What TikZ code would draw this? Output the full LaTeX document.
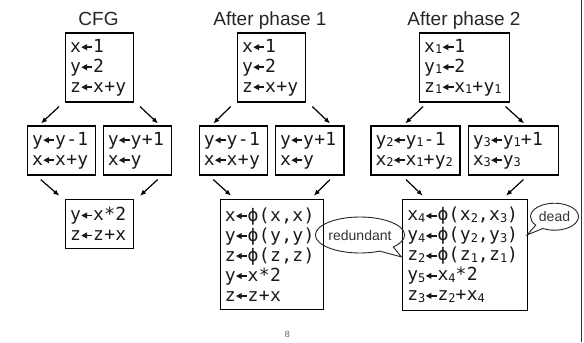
\documentclass[tikz,border=0pt]{standalone}
\usepackage{fontspec}
\setmainfont{Liberation Sans}
\newfontfamily\codefont[LetterSpace=2]{DejaVu Sans Mono}
\usetikzlibrary{shapes.callouts,arrows.meta,calc}
\newcommand\subn[1]{\raisebox{-1.5bp}{\fontsize{12bp}{12bp}\selectfont #1}}
\newcommand\la{\tikz[baseline=0pt]{\path (0bp,0bp) (11.6bp,0bp);\fill (0.3bp,5bp) -- (6bp,1.9bp) -- (6bp,8.1bp) -- cycle; \draw[line width=1.5bp] (5bp,5bp) -- (11.3bp,5bp);}}
\tikzset{
  codebox/.style={draw=black, line width=1.1bp, inner xsep=4.5bp, inner ysep=0pt, align=left,
    font=\codefont\fontsize{18bp}{20bp}\selectfont, text=black!90},
  ttl/.style={anchor=base, font=\fontsize{19bp}{22bp}\selectfont, text=black!85},
  arr/.style={line width=1.2bp, -{Latex[length=6bp,width=5bp]}},
  bubble/.style={ellipse callout, draw=black!85, line width=0.9bp, inner sep=0pt,
    callout pointer arc=22, font=\fontsize{14bp}{16bp}\selectfont, text=black!80},
}
\begin{document}
\begin{tikzpicture}[x=1bp,y=-1bp]
\useasboundingbox[fill=white] (0,0) rectangle (584,342);
% titles
\node[ttl] (t1) at (98.5,25) {CFG};
\node[ttl] (t2) at (270,25) {After phase 1};
\node[ttl] (t3) at (464,25) {After phase 2};
% column 1
\node[codebox, text width=58.6bp, minimum height=69bp] (A1) at (99.5,67.5) {x\la1\\y\la2\\z\la x+y};
\node[codebox, text width=59bp, minimum height=49bp] (B1) at (61.7,150.5) {y\la y-1\\x\la x+y};
\node[codebox, text width=59.4bp, minimum height=49bp] (C1) at (137.5,150.5) {y\la y+1\\x\la y};
\node[codebox, text width=58.6bp, minimum height=49bp] (D1) at (99.5,223.8) {y\la x*2\\z\la z+x};
% column 2
\node[codebox, text width=59bp, minimum height=69bp] (A2) at (271.7,67.5) {x\la1\\y\la2\\z\la x+y};
\node[codebox, text width=59.4bp, minimum height=49bp] (B2) at (233.5,150.5) {y\la y-1\\x\la x+y};
\node[codebox, text width=59.3bp, minimum height=49bp] (C2) at (309.85,150.5) {y\la y+1\\x\la y};
\node[codebox, text width=94bp, minimum height=110bp] (D2) at (271.8,254.2) {x\la ϕ(x,x)\\y\la ϕ(y,y)\\z\la ϕ(z,z)\\y\la x*2\\z\la z+x};
% column 3
\node[codebox, text width=81bp, minimum height=69bp] (A3) at (464.7,67.5) {x\subn{1}\la1\\y\subn{1}\la2\\z\subn{1}\la x\subn{1}+y\subn{1}};
\node[codebox, text width=80bp, minimum height=49bp] (B3) at (415.5,150.5) {y\subn{2}\la y\subn{1}-1\\x\subn{2}\la x\subn{1}+y\subn{2}};
\node[codebox, text width=81.3bp, minimum height=49bp] (C3) at (513.4,150.5) {y\subn{3}\la y\subn{1}+1\\x\subn{3}\la y\subn{3}};
\node[codebox, text width=115.2bp, minimum height=111.4bp] (D3) at (465,254.9) {x\subn{4}\la ϕ(x\subn{2},x\subn{3})\\y\subn{4}\la ϕ(y\subn{2},y\subn{3})\\z\subn{2}\la ϕ(z\subn{1},z\subn{1})\\y\subn{5}\la x\subn{4}*2\\z\subn{3}\la z\subn{2}+x\subn{4}};
% arrows column 1
\draw[arr] ($(A1.south)+(-40.5,4)$) -- ($(B1.north)+(-20.7,-2)$);
\draw[arr] ($(A1.south)+(40.5,4)$) -- ($(C1.north)+(20.5,-2)$);
\draw[arr] ($(B1.south)+(-21,4)$) -- ($(D1.north)+(-40.2,-3)$);
\draw[arr] ($(C1.south)+(20.2,4)$) -- ($(D1.north)+(40.5,-3)$);
% arrows column 2
\draw[arr] ($(A2.south)+(-41,4)$) -- ($(B2.north)+(-20.2,-2)$);
\draw[arr] ($(A2.south)+(40.6,4)$) -- ($(C2.north)+(20.2,-2)$);
\draw[arr] ($(B2.south)+(-20.2,4)$) -- ($(D2.north)+(-40.8,-3)$);
\draw[arr] ($(C2.south)+(20.2,4)$) -- ($(D2.north)+(42,-3)$);
% arrows column 3
\draw[arr] ($(A3.south)+(-41.6,4)$) -- ($(B3.north)+(-10.2,-2)$);
\draw[arr] ($(A3.south)+(40.9,4)$) -- ($(C3.north)+(10.7,-2)$);
\draw[arr] ($(B3.south)+(-9.5,4)$) -- ($(D3.north)+(-42.3,-3)$);
\draw[arr] ($(C3.south)+(10,4)$) -- ($(D3.north)+(41,-3)$);
% bubbles
\node[bubble, minimum width=74bp, minimum height=36bp,
      callout absolute pointer={($(D3.west)+(-1,2)$)}] (red) at (360,235) {redundant};
\node[bubble, minimum width=48bp, minimum height=27bp,
      callout absolute pointer={($(D3.east)+(-0.5,-20)$)}] (dead) at (554.5,216.7) {dead};
% page number and side rule
\node[font=\fontsize{9bp}{10bp}\selectfont, text=black!60] (pg) at (287.3,334) {8};
\coordinate (rt) at (581,0);
\coordinate (rb) at (581,342);
\draw[line width=1bp, black!80] (rt) -- (rb);
\end{tikzpicture}
\end{document}
